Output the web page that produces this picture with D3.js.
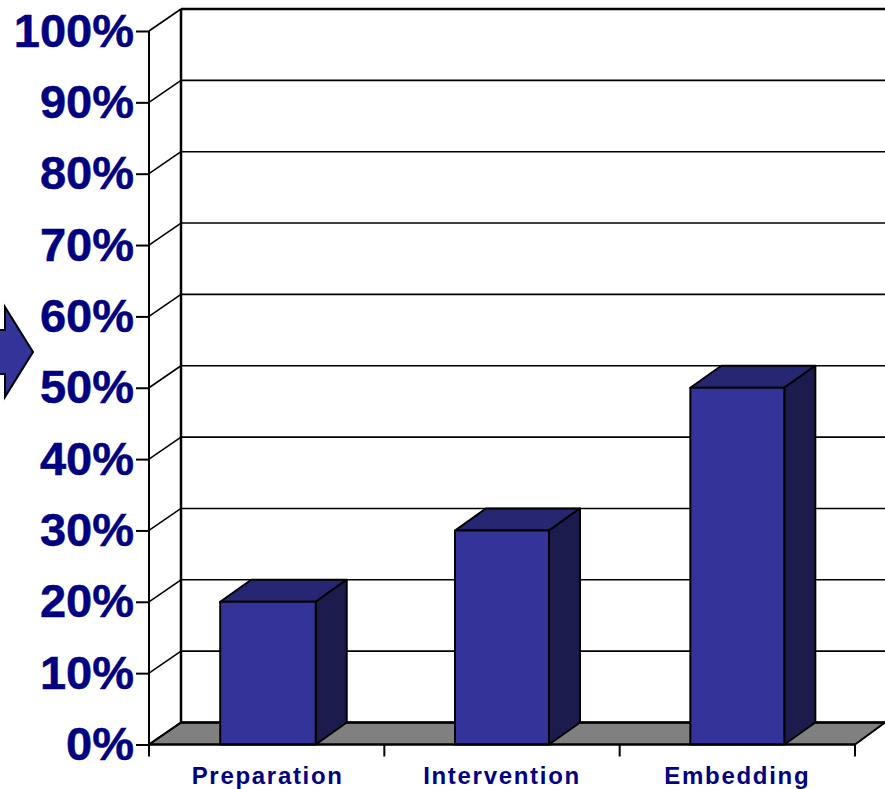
<!DOCTYPE html>
<html lang="en">
<head>
    <meta charset="UTF-8">
    <title>3d bars</title>
    <script src="https://cdn.jsdelivr.net/npm/d3@7/dist/d3.min.js"></script>
    <style>
        html, body { margin: 0; padding: 0; background: #fff; overflow: hidden; }
        svg { display: block; }
    </style>
</head>
<body>
    <script>
        var categories = ["Preparation", "Intervention", "Embedding"];
        var values = [20, 30, 50];
        var yTicks = [0, 10, 20, 30, 40, 50, 60, 70, 80, 90, 100];

        var w = 885;
        var h = 789;
        var depthX = 32;
        var depthY = -22;
        var barDepthX = 31;
        var navy = "#000080";

        var x = d3.scaleBand().domain(categories).range([149, 855]);
        var y = d3.scaleLinear().domain([0, 100]).range([744.5, 31]);

        var svg = d3.select("body").append("svg")
            .attr("width", w)
            .attr("height", h);

        function pts(a) {
            return a.map(function(p) { return p.join(","); }).join(" ");
        }

        // floor
        svg.append("polygon")
            .attr("points", pts([[149, y(0)], [855, y(0)], [855 + barDepthX - 1, y(0) + depthY], [149 + depthX, y(0) + depthY]]))
            .attr("fill", "#808080")
            .attr("stroke", "#000")
            .attr("stroke-width", 2);

        // back wall grid + side wall
        var grid = svg.append("g").attr("stroke", "#000");
        grid.selectAll(".back").data(yTicks).enter().append("line")
            .attr("x1", 149 + depthX)
            .attr("x2", w)
            .attr("y1", function(d) { return y(d) + depthY; })
            .attr("y2", function(d) { return y(d) + depthY; })
            .attr("stroke-width", function(d) { return d === 100 || d === 0 ? 2.5 : 1.6; });
        grid.selectAll(".side").data(yTicks).enter().append("line")
            .attr("x1", 149)
            .attr("x2", 149 + depthX)
            .attr("y1", function(d) { return y(d); })
            .attr("y2", function(d) { return y(d) + depthY; })
            .attr("stroke-width", 1.6);
        grid.append("line")
            .attr("x1", 149 + depthX).attr("x2", 149 + depthX)
            .attr("y1", y(100) + depthY).attr("y2", y(0) + depthY)
            .attr("stroke-width", 2.5);

        // bars
        var bars = svg.selectAll(".bar").data(values).enter().append("g")
            .attr("stroke", "#000")
            .attr("stroke-width", 2)
            .attr("stroke-linejoin", "round");
        function barW(i) { return i === 0 ? 95.5 : 94; }
        function left(i) { return x(categories[i]) + x.bandwidth() / 2 - barW(i) / 2 + (i === 0 ? 1.3 : 0); }
        bars.append("polygon")
            .attr("fill", "#262673")
            .attr("points", function(d, i) {
                var a = left(i), t = y(d);
                return pts([[a, t], [a + barW(i), t], [a + barW(i) + barDepthX, t + depthY], [a + barDepthX, t + depthY]]);
            });
        bars.append("polygon")
            .attr("fill", "#1b1b4d")
            .attr("points", function(d, i) {
                var a = left(i) + barW(i), t = y(d);
                return pts([[a, t], [a, y(0)], [a + barDepthX, y(0) + depthY], [a + barDepthX, t + depthY]]);
            });
        bars.append("rect")
            .attr("fill", "#333399")
            .attr("x", function(d, i) { return left(i); })
            .attr("y", function(d) { return y(d); })
            .attr("width", function(d, i) { return barW(i); })
            .attr("height", function(d) { return y(0) - y(d); });

        // y axis
        var yAxis = svg.append("g")
            .attr("transform", "translate(149,0)")
            .call(d3.axisLeft(y).tickValues(yTicks).tickSize(13).tickPadding(2).tickFormat(function(d) { return d + "%"; }));
        yAxis.selectAll("line, path").attr("stroke", "#000").attr("stroke-width", 2);
        yAxis.select(".domain").attr("d", "M0," + y(100) + "V" + y(0));
        yAxis.selectAll("text")
            .attr("fill", navy)
            .attr("stroke", navy)
            .attr("stroke-width", 0.5)
            .attr("font-family", "Liberation Sans")
            .attr("font-weight", "bold")
            .attr("font-size", "47px");

        // x axis
        var xAxis = svg.append("g")
            .attr("transform", "translate(0," + y(0) + ")")
            .call(d3.axisBottom(x).tickSize(0).tickPadding(22));
        xAxis.select(".domain").attr("d", "M149,0H855").attr("stroke", "#000").attr("stroke-width", 2);
        xAxis.selectAll("text")
            .attr("fill", navy)
            .attr("font-family", "Liberation Sans")
            .attr("font-weight", "bold")
            .attr("font-size", "24px")
            .attr("letter-spacing", "1.7px")
            .attr("dx", function(d, i) { return i === 0 ? 1 : 0; });
        xAxis.selectAll(".edge").data(d3.range(categories.length + 1)).enter().append("line")
            .attr("x1", function(i) { return 149 + i * x.step(); })
            .attr("x2", function(i) { return 149 + i * x.step(); })
            .attr("y1", 0)
            .attr("y2", 12)
            .attr("stroke", "#000")
            .attr("stroke-width", 2);

        // arrow at left edge
        svg.append("polygon")
            .attr("points", pts([[-5, 330], [5, 330], [5, 307], [33, 352], [5, 397], [5, 374], [-5, 374]]))
            .attr("fill", "#333399")
            .attr("stroke", "#000")
            .attr("stroke-width", 2);
    </script>
</body>
</html>
